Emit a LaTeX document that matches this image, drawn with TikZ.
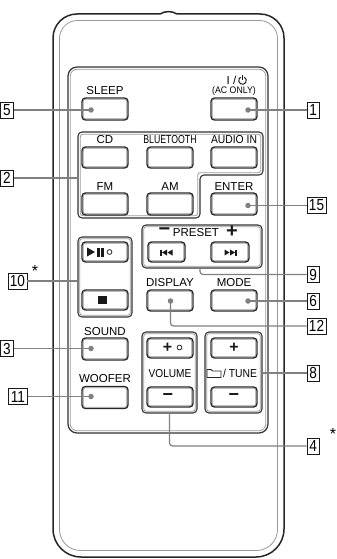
\documentclass[tikz,border=0pt]{standalone}
\usepackage{fontspec}
\usepackage{graphicx}
\setmainfont{Liberation Sans}
\usetikzlibrary{calc}
\begin{document}
\begin{tikzpicture}[x=1pt,y=-1pt,
  body/.style={draw=black!85,line width=1.5pt},
  lt/.style={draw=black!40,line width=0.8pt},
  grp/.style={draw=black!80,line width=1.1pt,rounded corners=4pt,inner sep=0pt},
  btn/.style={draw=black!85,line width=1.4pt,rounded corners=3.5pt,inner sep=0pt,minimum width=46pt,minimum height=21pt},
  lbl/.style={font=\fontsize{11.5}{12}\selectfont,inner sep=0pt,anchor=base,text=black},
  sym/.style={font=\fontsize{16}{16}\selectfont\bfseries,inner sep=0pt,text=black!90},
  num/.style={draw=black!90,line width=0.9pt,fill=white,inner sep=0pt,minimum height=16pt,minimum width=12.5pt,font=\fontsize{16}{16}\selectfont},
  numw/.style={num,minimum width=19pt},
  star/.style={font=\fontsize{16}{16}\selectfont,inner sep=0pt,anchor=base},
  call/.style={draw=black!50,line width=1.2pt},
  dotn/.style={circle,fill=black!50,inner sep=0pt,minimum size=5.5pt},
  glyph/.style={fill=black!90,draw=none},
]
\useasboundingbox (0,0) rectangle (337,559);

% remote body
\draw[body] (53,290) -- (53,529) arc[start angle=180,end angle=90,radius=28]
  -- (256,557) arc[start angle=90,end angle=0,radius=28]
  -- (284,38) arc[start angle=0,end angle=-90,radius=24]
  -- (177,14) .. controls (172,10.8) and (165,10.8) .. (160,14)
  -- (77,14) arc[start angle=-90,end angle=-180,radius=24] -- cycle;
\draw[lt] (59.5,290) -- (59.5,529.5) arc[start angle=180,end angle=90,radius=21]
  -- (256.5,550.5) arc[start angle=90,end angle=0,radius=21]
  -- (277.5,38.5) arc[start angle=0,end angle=-90,radius=18]
  -- (77.5,20.5) arc[start angle=-90,end angle=-180,radius=18] -- cycle;

% key panel
\node[grp,rounded corners=9pt,line width=1.2pt,minimum width=200pt,minimum height=366pt] (panel) at (168,250) {};
\draw[lt,rounded corners=7pt] ([xshift=2.8pt,yshift=-2.8pt]panel.north west) rectangle ([xshift=-2.8pt,yshift=2.8pt]panel.south east);

% group of source keys (L-shaped)
\coordinate (g2tl) at (78,132);
\coordinate (g2tr) at (263,132);
\coordinate (g2r) at (263,175);
\coordinate (g2m) at (200,175);
\coordinate (g2b) at (200,218);
\coordinate (g2bl) at (78,218);
\draw[draw=black!80,line width=1.1pt,rounded corners=4pt] (78,175) -- (g2tl) -- (g2tr) -- (g2r) -- (g2m) -- (g2b) -- (g2bl) -- cycle;
\draw[lt,rounded corners=2.5pt] (80.3,175) -- (80.3,134.3) -- (260.7,134.3) -- (260.7,172.7) -- (197.7,172.7) -- (197.7,215.7) -- (80.3,215.7) -- cycle;

% other groups
\node[grp,minimum width=54pt,minimum height=80pt] (grp10) at (105,277) {};
\node[grp,minimum width=120pt,minimum height=43pt] (preset) at (202,246.5) {};
\node[grp,minimum width=55pt,minimum height=81pt] (vol) at (169.5,372.5) {};
\node[grp,minimum width=57pt,minimum height=81pt] (tune) at (233.5,372.5) {};
\foreach \n in {grp10,preset,vol,tune}
  \draw[lt,rounded corners=2.5pt] ([xshift=2.3pt,yshift=-2.3pt]\n.north west) rectangle ([xshift=-2.3pt,yshift=2.3pt]\n.south east);

% buttons
\node[btn,minimum height=22pt] (sleep) at (105,109) {};
\node[btn,minimum height=22pt] (power) at (234,109) {};
\node[btn] (cd) at (105,157.5) {};
\node[btn] (bt) at (170,157.5) {};
\node[btn] (ain) at (234,157.5) {};
\node[btn,minimum height=22pt] (fm) at (105,204) {};
\node[btn,minimum height=22pt] (am) at (170,204) {};
\node[btn,minimum height=22pt] (enter) at (234,204) {};
\node[btn,minimum height=20pt] (play) at (105,252) {};
\node[btn,minimum height=20pt] (stop) at (105,300) {};
\node[btn,minimum width=37pt,minimum height=20pt] (prev) at (166.5,252) {};
\node[btn,minimum width=38pt,minimum height=20pt] (next) at (230,252) {};
\node[btn] (display) at (170,300.5) {};
\node[btn] (mode) at (234,300.5) {};
\node[btn,minimum height=22pt] (sound) at (105,349) {};
\node[btn,minimum height=20pt] (volp) at (170,348) {};
\node[btn,minimum height=20pt] (tunep) at (234,348) {};
\node[btn,minimum height=22pt] (woofer) at (105,397.5) {};
\node[btn,minimum height=20pt] (volm) at (170,397) {};
\node[btn,minimum height=20pt] (tunem) at (234,397) {};
\foreach \n in {sleep,power,cd,bt,ain,fm,am,enter,play,stop,prev,next,display,mode,sound,volp,tunep,woofer,volm,tunem}
  \draw[lt,rounded corners=2pt] ([xshift=1.9pt,yshift=-1.9pt]\n.north west) rectangle ([xshift=-1.9pt,yshift=1.9pt]\n.south east);

% labels
\node[lbl] (tsleep) at (105,94.5) {SLEEP};
\node[lbl] (tpow) at (231.5,85) {I /};
\coordinate (pw) at (242.5,80.5);
\draw[black!90,line width=1pt] ($(pw)+(-60:3.8)$) arc[start angle=-60,end angle=240,radius=3.8];
\draw[black!90,line width=1pt] ($(pw)+(0,-5.2)$) -- ($(pw)+(0,-0.6)$);
\node[lbl,font=\fontsize{9.5}{10}\selectfont] (tac) at (234,94) {\scalebox{0.92}[1]{(AC ONLY)}};
\node[lbl] (tcd) at (105,143.5) {CD};
\node[lbl] (tbt) at (170,143.5) {\scalebox{0.76}[1]{BLUETOOTH}};
\node[lbl] (tain) at (234,143.5) {\scalebox{0.9}[1]{AUDIO IN}};
\node[lbl] (tfm) at (105,190.5) {FM};
\node[lbl] (tam) at (170,190.5) {AM};
\node[lbl] (tenter) at (234,190.5) {ENTER};
\node[sym,font=\fontsize{20}{20}\selectfont\bfseries] (tpm) at (164.5,232) {−};
\node[lbl] (tpreset) at (196,236.5) {PRESET};
\node[sym,font=\fontsize{20}{20}\selectfont\bfseries] (tpp) at (232,232) {+};
\node[lbl] (tdisp) at (170,286) {DISPLAY};
\node[lbl] (tmode) at (234,286) {MODE};
\node[lbl] (tsound) at (105,335) {SOUND};
\node[lbl] (tvol) at (170,377) {\scalebox{0.88}[1]{VOLUME}};
\node[lbl] (ttune) at (240,377) {\scalebox{0.9}[1]{/ TUNE}};
\draw[black!85,line width=0.8pt] (207,377.5) -- (207,369.5) -- (211,369.5) -- (212.5,371) -- (221,371) -- (221,377.5) -- cycle;
\node[lbl] (twoof) at (105,382.5) {WOOFER};

% key glyphs
\fill[glyph] (87,247.5) -- (95,252) -- (87,256.5) -- cycle;
\fill[glyph] (97,247.5) rectangle (99.6,256.5);
\fill[glyph] (101.4,247.5) rectangle (104,256.5);
\draw[black!85,line width=0.8pt] (109.5,252) circle[radius=2.4];
\fill[glyph] (98,295.5) rectangle (106.5,304);
\fill[glyph] (160,249.5) rectangle (161.6,255.5);
\fill[glyph] (167,249.5) -- (167,255.5) -- (162,252.5) -- cycle;
\fill[glyph] (172.5,249.5) -- (172.5,255.5) -- (167.5,252.5) -- cycle;
\fill[glyph] (224.5,249.5) -- (224.5,255.5) -- (229.5,252.5) -- cycle;
\fill[glyph] (230,249.5) -- (230,255.5) -- (235,252.5) -- cycle;
\fill[glyph] (235.4,249.5) rectangle (237,255.5);
\node[sym] (tvp) at (167.5,347.5) {+};
\draw[black!85,line width=0.8pt] (179.5,347.5) circle[radius=2.4];
\node[sym] (ttp) at (234,347.5) {+};
\node[sym,font=\fontsize{18}{18}\selectfont\bfseries] (tvm) at (168,397) {−};
\node[sym,font=\fontsize{18}{18}\selectfont\bfseries] (ttm) at (234,397) {−};

% callout numbers
\node[num] (n5) at (7,110) {\scalebox{0.85}[1]{5}};
\node[num] (n1) at (313.25,110) {\scalebox{0.85}[1]{1}};
\node[num] (n2) at (7,178) {\scalebox{0.85}[1]{2}};
\node[numw] (n15) at (316.5,205.5) {\scalebox{0.85}[1]{15}};
\node[numw] (n10) at (17.5,281) {\scalebox{0.85}[1]{10}};
\node[star] (s10) at (35,276) {*};
\node[num] (n9) at (313.25,274.5) {\scalebox{0.85}[1]{9}};
\node[num] (n6) at (313.25,301) {\scalebox{0.85}[1]{6}};
\node[numw] (n12) at (316.5,326) {\scalebox{0.85}[1]{12}};
\node[num] (n3) at (7,348.5) {\scalebox{0.85}[1]{3}};
\node[num] (n8) at (313.25,373) {\scalebox{0.85}[1]{8}};
\node[numw] (n11) at (18,396.5) {\scalebox{0.85}[1]{11}};
\node[num] (n4) at (313.25,446) {\scalebox{0.85}[1]{4}};
\node[star] (s4) at (333,439) {*};

% callout lines
\coordinate (csleep) at (91,110);
\coordinate (cpower) at (248,110);
\coordinate (center) at (248,205.5);
\coordinate (cmode) at (248,301);
\coordinate (cdisp) at (170.5,301);
\coordinate (csound) at (91,348.5);
\coordinate (cwoof) at (91,396.5);
\coordinate (p9) at (200,268);
\draw[call] (n5.east) -- (csleep);
\draw[call] (cpower) -- (n1.west);
\draw[call] (n2.east) -- (n2.east -| g2tl);
\draw[call] (center) -- (n15.west);
\draw[call] (n10.east) -- (n10.east -| grp10.west);
\draw[call,rounded corners=3pt] (p9) |- (n9.west);
\draw[call] (cmode) -- (n6.west);
\draw[call,rounded corners=3pt] (cdisp) |- (n12.west);
\draw[call] (n3.east) -- (csound);
\draw[call] (n8.west -| tune.east) -- (n8.west);
\draw[call] (n11.east) -- (cwoof);
\draw[call,rounded corners=3pt] (vol.south) |- (n4.west);
\foreach \c in {csleep,cpower,center,cmode,cdisp,csound,cwoof}
  \node[dotn] at (\c) {};
\end{tikzpicture}
\end{document}
